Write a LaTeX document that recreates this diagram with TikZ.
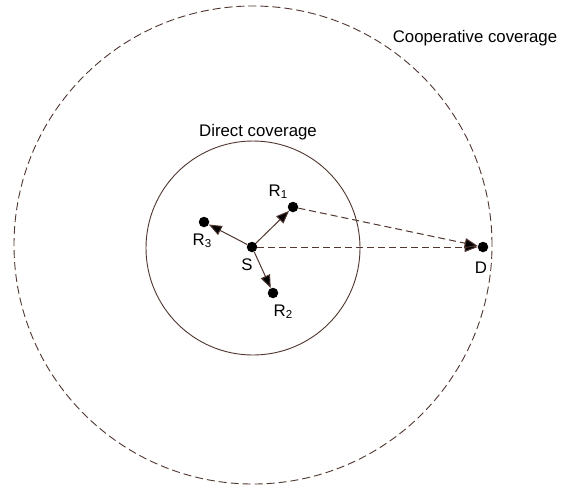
\documentclass[tikz,border=0pt]{standalone}
\usepackage{fontspec}
\setmainfont{Liberation Sans}
\usetikzlibrary{arrows.meta}
\definecolor{linec}{RGB}{80,55,48}
\newcommand{\lblsub}[2]{#1\raisebox{-0.25ex}{\fontsize{11.5}{11.5}\selectfont #2}}
\begin{document}
\begin{tikzpicture}[x=1pt,y=-1pt,
  dot/.style={circle,fill=black,inner sep=0pt,minimum size=10.5pt},
  lbl/.style={font=\fontsize{16.8}{18}\selectfont,inner sep=0pt},
  link/.style={draw=linec,line width=1pt,-{Triangle[length=13pt,width=10pt,fill=black]}},
  relay/.style={link,dash pattern=on 7pt off 4pt},
  coverage/.style={draw=linec,line width=0.9pt}]
\useasboundingbox[fill=white] (0,0) rectangle (561,491);

% coverage areas
\draw[coverage,dash pattern=on 8pt off 4pt] (253,245) circle[radius=239pt];
\draw[coverage] (253,248) circle[radius=107pt];
\node[lbl,anchor=base] (coop) at (475,42) {Cooperative coverage};
\node[lbl,anchor=base] (direct) at (258,136) {Direct coverage};

% terminals
\node[dot] (S)  at (252,247) {};
\node[dot] (R1) at (293,207) {};
\node[dot] (R2) at (273,293) {};
\node[dot] (R3) at (204,222) {};
\node[dot] (D)  at (483,247) {};

\node[lbl] (lS)  at (247,265) {S};
\node[lbl] (lR1) at (278,192) {\lblsub{R}{1}};
\node[lbl] (lR2) at (283,312) {\lblsub{R}{2}};
\node[lbl] (lR3) at (202,241) {\lblsub{R}{3}};
\node[lbl] (lD)  at (481,268) {D};

% direct links
\draw[link] (S) -- (R1);
\draw[link] (S) -- (R2);
\draw[link] (S) -- (R3);

% cooperative links
\draw[relay] (S) -- (D);
\draw[relay] (R1) -- (D);
\end{tikzpicture}
\end{document}
